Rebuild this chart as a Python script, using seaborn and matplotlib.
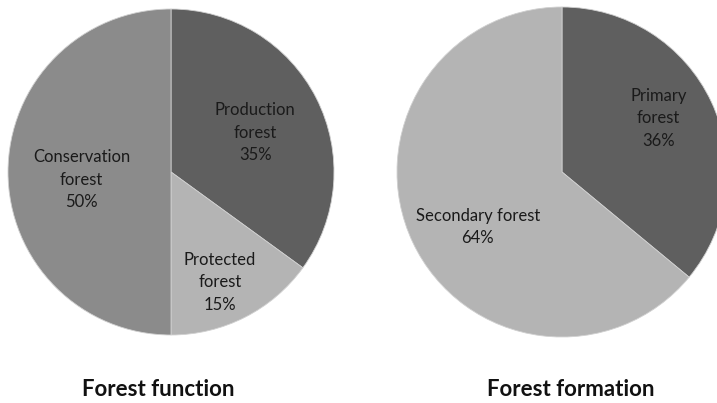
import numpy as np
import matplotlib
matplotlib.use("Agg")
import matplotlib.pyplot as plt
import seaborn as sns

# data
function_labels = ["Production\nforest", "Protected\nforest", "Conservation\nforest"]
function_values = [35, 15, 50]
formation_labels = ["Primary\nforest", "Secondary forest"]
formation_values = [36, 64]

sns.set_theme(style="white")
plt.rcParams['font.family'] = ['Lato', 'DejaVu Sans']

dark, mid, light = "#5f5f5f", "#8b8b8b", "#b4b4b4"
function_colors = [dark, light, mid]
formation_colors = [dark, light]

W, H = 717, 403
fig = plt.figure(figsize=(W / 100, H / 100), dpi=100)


def draw_pie(cx, cy, r, labels, values, colors, label_r, title, title_x):
    ax = fig.add_axes([(cx - r) / W, (H - cy - r) / H, 2 * r / W, 2 * r / H])
    wedges, _ = ax.pie(values, colors=colors, startangle=90, counterclock=False,
                       radius=1.0, wedgeprops=dict(edgecolor="#d0d0d0", linewidth=0.6))
    total = sum(values)
    for w, lab, v, lr in zip(wedges, labels, values, label_r):
        ang = np.deg2rad((w.theta1 + w.theta2) / 2 + lr[1])
        ax.text(lr[0] * np.cos(ang), lr[0] * np.sin(ang),
                f"{lab}\n{round(100 * v / total)}%", ha="center", va="center",
                fontsize=12, color="#1a1a1a", linespacing=1.5)
    ax.set_xlim(-1.0, 1.0)
    ax.set_ylim(-1.0, 1.0)
    ax.set_aspect("equal")
    ax.axis("off")
    fig.text(title_x / W, 1 - 389 / H, title, ha="center", va="center",
             fontsize=16, fontweight="bold", color="#111111")


draw_pie(171, 172, 163, function_labels, function_values, function_colors,
         [(0.57, -2), (0.74, -3), (0.55, 5)], "Forest function", 158)
draw_pie(562, 172, 165, formation_labels, formation_values, formation_colors,
         [(0.67, 4), (0.61, 8)], "Forest formation", 571)

fig.savefig("out.png", dpi=100, facecolor="white")
